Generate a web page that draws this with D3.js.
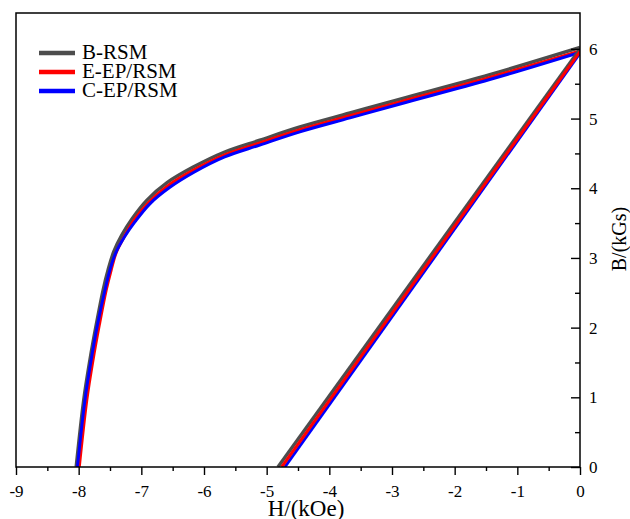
<!DOCTYPE html>
<meta charset="utf-8" />
<script src="https://cdn.jsdelivr.net/npm/d3@7"></script>
<html>
    <head>
        <title>B-H demagnetization curves</title>
        <style>
            body { margin: 0; background: #fff; }
            text { font-family: "Liberation Serif", "Times New Roman", serif; fill: #000; }
        </style>
    </head>
    <body>
        <script>
            // series names + colours
            var seriesNames = ["B-RSM", "E-EP/RSM", "C-EP/RSM"];
            var seriesColors = ["#4d4d4d", "#ff0000", "#0000ff"];

            // curved part, [H kOe, B kGs]
            var curveGray = [[-8.04,0],[-7.92,0.96],[-7.82,1.54],[-7.72,2.04],[-7.61,2.54],[-7.53,2.83],[-7.44,3.09],[-7.31,3.33],[-7.15,3.56],[-6.91,3.83],[-6.59,4.08],[-6.18,4.30],[-5.67,4.52],[-5.11,4.69],[-4.47,4.88],[-3.67,5.08],[-2.87,5.28],[-1.44,5.63],[0,6.02]];
            var curveRed  = [[-7.99,0],[-7.87,0.96],[-7.77,1.54],[-7.67,2.04],[-7.56,2.54],[-7.48,2.83],[-7.40,3.08],[-7.27,3.31],[-7.12,3.54],[-6.88,3.80],[-6.57,4.04],[-6.17,4.26],[-5.67,4.48],[-5.11,4.65],[-4.47,4.84],[-3.67,5.04],[-2.87,5.24],[-1.44,5.59],[0,5.97]];
            var curveBlue = [[-8.02,0],[-7.90,0.96],[-7.80,1.54],[-7.70,2.04],[-7.58,2.54],[-7.50,2.83],[-7.41,3.07],[-7.27,3.30],[-7.10,3.52],[-6.86,3.78],[-6.55,4.01],[-6.16,4.23],[-5.67,4.45],[-5.11,4.62],[-4.47,4.81],[-3.67,5.01],[-2.87,5.21],[-1.44,5.56],[0,5.95]];

            // straight lines
            var lineGray = [[-4.82,0],[0,6.0]];
            var lineRed  = [[-4.76,0],[0,5.96]];
            var lineBlue = [[-4.71,0],[0,5.94]];

            var xTicks = [-9,-8,-7,-6,-5,-4,-3,-2,-1,0];
            var yTicks = [0,1,2,3,4,5,6];

            var width = 630,
                height = 519;
            // plot box (note: "top" is taken by window.top)
            var m = { left: 16, right: 580, top: 13, bottom: 467 };

            var x = d3.scaleLinear().domain([-9, 0]).range([m.left, m.right]);
            var y = d3.scaleLinear().domain([0, 6.515]).range([m.bottom, m.top]);

            var svg = d3.select("body")
                .append("svg")
                .attr("width", width)
                .attr("height", height);

            svg.append("clipPath").attr("id", "clip")
                .append("rect")
                .attr("x", m.left).attr("y", m.top)
                .attr("width", m.right - m.left).attr("height", m.bottom - m.top);

            var line = d3.line()
                .x(function (d) { return x(d[0]); })
                .y(function (d) { return y(d[1]); });

            var smooth = d3.line()
                .x(function (d) { return x(d[0]); })
                .y(function (d) { return y(d[1]); })
                .curve(d3.curveCatmullRom.alpha(0.5));

            var plot = svg.append("g").attr("clip-path", "url(#clip)");

            // curves: gray, red, blue on top
            [curveGray, curveRed, curveBlue].forEach(function (c, i) {
                plot.append("path")
                    .attr("d", smooth(c))
                    .attr("fill", "none")
                    .attr("stroke", seriesColors[i])
                    .attr("stroke-width", i == 0 ? 3.4 : 3);
            });

            // lines: red is drawn over blue here
            [[lineGray, 0], [lineBlue, 2], [lineRed, 1]].forEach(function (p) {
                plot.append("path")
                    .attr("d", line(p[0]))
                    .attr("fill", "none")
                    .attr("stroke", seriesColors[p[1]])
                    .attr("stroke-width", p[1] == 0 ? 3.4 : 3);
            });

            // frame
            svg.append("rect")
                .attr("x", m.left).attr("y", m.top)
                .attr("width", m.right - m.left).attr("height", m.bottom - m.top)
                .attr("fill", "none")
                .attr("stroke", "#000")
                .attr("stroke-width", 1.5);

            // bottom axis, ticks outward
            var xAxis = svg.append("g")
                .attr("transform", "translate(0," + m.bottom + ")")
                .call(d3.axisBottom(x).tickValues(xTicks).tickSize(8)
                    .tickFormat(function (d) { return String(d); }));
            svg.append("g")
                .attr("transform", "translate(0," + m.bottom + ")")
                .call(d3.axisBottom(x).tickValues(d3.range(-8.5, 0, 1)).tickSize(4).tickFormat(""));

            // right axis, ticks inward
            svg.append("g")
                .attr("transform", "translate(" + m.right + ",0)")
                .call(d3.axisLeft(y).tickValues(yTicks).tickSize(9).tickFormat(""));
            svg.append("g")
                .attr("transform", "translate(" + m.right + ",0)")
                .call(d3.axisLeft(y).tickValues(d3.range(0.5, 6.5, 1)).tickSize(5).tickFormat(""));

            svg.selectAll(".domain").remove();
            svg.selectAll(".tick line").attr("stroke", "#000").attr("stroke-width", 1.4);

            xAxis.selectAll(".tick text")
                .attr("y", 30)
                .attr("dy", 0)
                .style("font-size", "17px")
                .style("font-family", "'Liberation Serif', serif");

            svg.append("g").selectAll("text")
                .data(yTicks)
                .enter()
                .append("text")
                .attr("x", m.right + 9)
                .attr("y", function (d) { return y(d) + 6; })
                .style("font-size", "17px")
                .text(function (d) { return d; });

            // axis titles
            svg.append("text")
                .attr("x", 306)
                .attr("y", 516)
                .attr("text-anchor", "middle")
                .style("font-size", "23px")
                .text("H/(kOe)");

            svg.append("text")
                .attr("transform", "translate(626,239) rotate(-90)")
                .attr("text-anchor", "middle")
                .style("font-size", "20px")
                .text("B/(kGs)");

            // legend
            var legend = svg.append("g").selectAll("g")
                .data(seriesNames)
                .enter()
                .append("g")
                .attr("transform", function (d, i) {
                    return "translate(0," + (53 + i * 19) + ")";
                });
            legend.append("line")
                .attr("x1", 39).attr("x2", 75)
                .attr("stroke", function (d, i) { return seriesColors[i]; })
                .attr("stroke-width", 4.5);
            legend.append("text")
                .attr("x", 82)
                .attr("y", 6)
                .style("font-size", "21px")
                .text(function (d) { return d; });
        </script>
    </body>
</html>
